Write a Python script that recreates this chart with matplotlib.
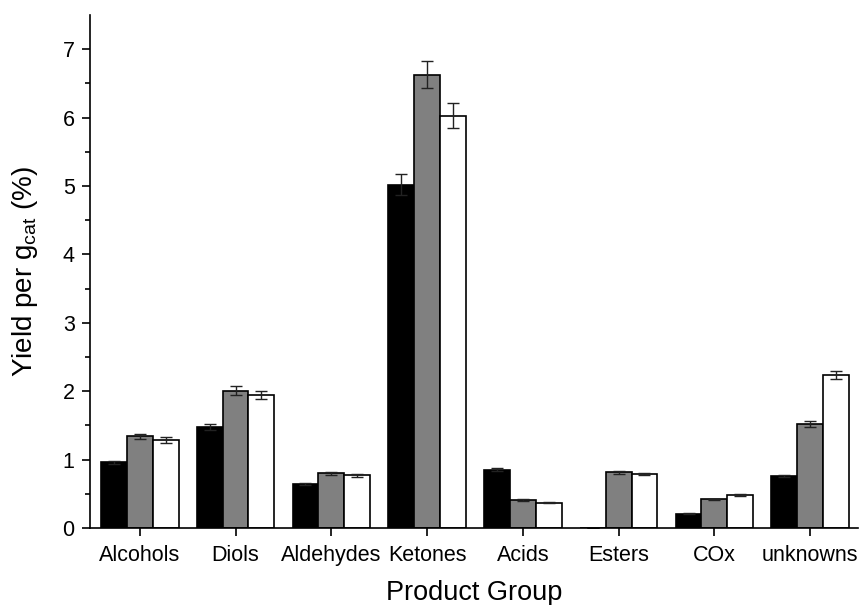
import matplotlib
matplotlib.use("Agg")
import matplotlib.pyplot as plt
import numpy as np

plt.rcParams['font.family'] = ['Liberation Sans', 'DejaVu Sans']
plt.rcParams['mathtext.fontset'] = 'custom'
plt.rcParams['mathtext.rm'] = 'Liberation Sans'

categories = ["Alcohols", "Diols", "Aldehydes", "Ketones", "Acids", "Esters", "COx", "unknowns"]
series_black = [0.96, 1.48, 0.64, 5.02, 0.85, 0.0, 0.21, 0.76]
series_gray = [1.34, 2.01, 0.80, 6.63, 0.41, 0.815, 0.42, 1.52]
series_white = [1.29, 1.95, 0.77, 6.03, 0.37, 0.79, 0.48, 2.24]
err_black = [0.02, 0.04, 0.015, 0.15, 0.02, 0.0, 0.005, 0.015]
err_gray = [0.04, 0.06, 0.025, 0.20, 0.015, 0.025, 0.01, 0.05]
err_white = [0.04, 0.06, 0.02, 0.18, 0.01, 0.02, 0.01, 0.06]

fig = plt.figure(figsize=(8.6, 6.05), dpi=100)
ax = fig.add_axes([90/860, 1-528/605, (858-90)/860, (528-15)/605])

x = np.arange(len(categories))
w = 0.27
ekw = dict(ecolor='#222222', elinewidth=1.0, capsize=4, capthick=1.0)
ax.bar(x - w, series_black, w, color='black', edgecolor='black', linewidth=1.2, yerr=err_black, error_kw=ekw)
ax.bar(x, series_gray, w, color='#808080', edgecolor='black', linewidth=1.2, yerr=err_gray, error_kw=ekw)
ax.bar(x + w, series_white, w, color='white', edgecolor='black', linewidth=1.2, yerr=err_white, error_kw=ekw)

ax.set_xlim(-0.52, 7.5)
ax.set_ylim(0, 7.5)
ax.set_xticks(x)
ax.set_xticklabels(categories, fontsize=15.5)
ax.set_yticks(range(0, 8))
ax.set_yticks(np.arange(0.5, 7.5, 1.0), minor=True)
ax.tick_params(axis='y', labelsize=15.5, direction='out', length=6, width=1.2, pad=5)
ax.tick_params(axis='y', which='minor', length=3.5, width=1.2)
ax.tick_params(axis='x', direction='out', length=6, width=1.2, pad=6)
for s in ['top', 'right']:
    ax.spines[s].set_visible(False)
for s in ['left', 'bottom']:
    ax.spines[s].set_linewidth(1.2)

ax.set_xlabel("Product Group", fontsize=19.5, labelpad=10)
ax.set_ylabel("Yield per g$_{\\mathrm{cat}}$ (%)", fontsize=20, labelpad=16)

fig.savefig("out.png", dpi=100)
